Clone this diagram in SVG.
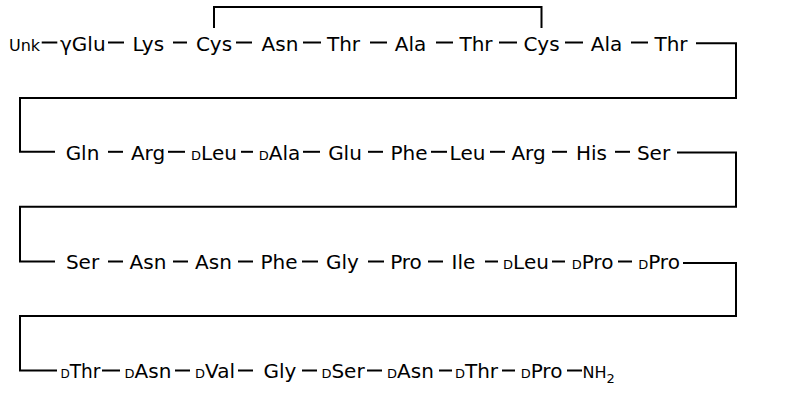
<svg xmlns="http://www.w3.org/2000/svg" width="796" height="417" viewBox="0 0 796 417">
<style>
text{font-family:"DejaVu Sans","Liberation Sans",sans-serif;font-size:20px;fill:#000;text-anchor:middle}
.s{font-size:13px}
.u{font-size:16px}
.c line,.c path{stroke:#000;stroke-width:2;fill:none}
</style>
<rect width="796" height="417" fill="#fff"/>
<g class="c" id="connectors">
<path d="M214,28 V7 H541.5 V28"/>
<path d="M696,43.3 H736 V98 H20 V151.8 H55"/>
<path d="M677,152.5 H736 V206.7 H20 V261.5 H55"/>
<path d="M683,263 H736 V316 H20 V370.5 H57"/>
<line x1="41.7" y1="42.5" x2="57.3" y2="42.5"/>
<line x1="108" y1="42.5" x2="124" y2="42.5"/>
<line x1="173" y1="42.5" x2="187" y2="42.5"/>
<line x1="236" y1="42.5" x2="252" y2="42.5"/>
<line x1="303" y1="42.5" x2="321" y2="42.5"/>
<line x1="370" y1="42.5" x2="387" y2="42.5"/>
<line x1="436" y1="42.5" x2="453" y2="42.5"/>
<line x1="499" y1="42.5" x2="517" y2="42.5"/>
<line x1="565" y1="42.5" x2="583" y2="42.5"/>
<line x1="631" y1="42.5" x2="648" y2="42.5"/>
<line x1="108" y1="151.8" x2="123" y2="151.8"/>
<line x1="168" y1="151.8" x2="185" y2="151.8"/>
<line x1="241" y1="151.8" x2="253" y2="151.8"/>
<line x1="303" y1="151.8" x2="320" y2="151.8"/>
<line x1="368" y1="151.8" x2="383" y2="151.8"/>
<line x1="431" y1="151.8" x2="447" y2="151.8"/>
<line x1="490" y1="151.8" x2="505" y2="151.8"/>
<line x1="552" y1="151.8" x2="567" y2="151.8"/>
<line x1="615" y1="151.8" x2="630" y2="151.8"/>
<line x1="108" y1="261.5" x2="123" y2="261.5"/>
<line x1="173" y1="261.5" x2="188" y2="261.5"/>
<line x1="238" y1="261.5" x2="253" y2="261.5"/>
<line x1="302" y1="261.5" x2="318" y2="261.5"/>
<line x1="368" y1="261.5" x2="384" y2="261.5"/>
<line x1="428" y1="261.5" x2="443" y2="261.5"/>
<line x1="485" y1="261.5" x2="498" y2="261.5"/>
<line x1="552" y1="261.5" x2="565" y2="261.5"/>
<line x1="618" y1="261.5" x2="632" y2="261.5"/>
<line x1="102" y1="370.5" x2="120" y2="370.5"/>
<line x1="175" y1="370.5" x2="190" y2="370.5"/>
<line x1="238" y1="370.5" x2="253" y2="370.5"/>
<line x1="302" y1="370.5" x2="317" y2="370.5"/>
<line x1="367" y1="370.5" x2="382" y2="370.5"/>
<line x1="439" y1="370.5" x2="452" y2="370.5"/>
<line x1="502" y1="370.5" x2="515" y2="370.5"/>
<line x1="567" y1="370.5" x2="582" y2="370.5"/>
</g>
<g id="r1-unk"><text class="u" x="24.5" y="51">Unk</text></g>
<g id="r1-gglu"><text x="82.8" y="51">γGlu</text></g>
<g id="r1-lys"><text x="148.3" y="51">Lys</text></g>
<g id="r1-cys1"><text x="214" y="51">Cys</text></g>
<g id="r1-asn"><text x="280" y="51">Asn</text></g>
<g id="r1-thr1"><text x="343.5" y="51">Thr</text></g>
<g id="r1-ala1"><text x="410.5" y="51">Ala</text></g>
<g id="r1-thr2"><text x="476" y="51">Thr</text></g>
<g id="r1-cys2"><text x="541.5" y="51">Cys</text></g>
<g id="r1-ala2"><text x="606.5" y="51">Ala</text></g>
<g id="r1-thr3"><text x="671" y="51">Thr</text></g>
<g id="r2-gln"><text x="82.5" y="160">Gln</text></g>
<g id="r2-arg1"><text x="148" y="160">Arg</text></g>
<g id="r2-dleu"><text x="214" y="160"><tspan class="s">D</tspan>Leu</text></g>
<g id="r2-dala"><text x="279.5" y="160"><tspan class="s">D</tspan>Ala</text></g>
<g id="r2-glu"><text x="345" y="160">Glu</text></g>
<g id="r2-phe"><text x="409" y="160">Phe</text></g>
<g id="r2-leu"><text x="467.5" y="160">Leu</text></g>
<g id="r2-arg2"><text x="528.5" y="160">Arg</text></g>
<g id="r2-his"><text x="591.5" y="160">His</text></g>
<g id="r2-ser"><text x="653.5" y="160">Ser</text></g>
<g id="r3-ser"><text x="82.5" y="269">Ser</text></g>
<g id="r3-asn1"><text x="148" y="269">Asn</text></g>
<g id="r3-asn2"><text x="213.5" y="269">Asn</text></g>
<g id="r3-phe"><text x="279" y="269">Phe</text></g>
<g id="r3-gly"><text x="342.5" y="269">Gly</text></g>
<g id="r3-pro"><text x="406" y="269">Pro</text></g>
<g id="r3-ile"><text x="463.5" y="269">Ile</text></g>
<g id="r3-dleu"><text x="526" y="269"><tspan class="s">D</tspan>Leu</text></g>
<g id="r3-dpro1"><text x="592.5" y="269"><tspan class="s">D</tspan>Pro</text></g>
<g id="r3-dpro2"><text x="659" y="269"><tspan class="s">D</tspan>Pro</text></g>
<g id="r4-dthr1"><text x="80.5" y="378" textLength="40" lengthAdjust="spacingAndGlyphs"><tspan class="s">D</tspan>Thr</text></g>
<g id="r4-dasn1"><text x="148" y="378"><tspan class="s">D</tspan>Asn</text></g>
<g id="r4-dval"><text x="215" y="378"><tspan class="s">D</tspan>Val</text></g>
<g id="r4-gly"><text x="280" y="378">Gly</text></g>
<g id="r4-dser"><text x="343" y="378"><tspan class="s">D</tspan>Ser</text></g>
<g id="r4-dasn2"><text x="410.5" y="378"><tspan class="s">D</tspan>Asn</text></g>
<g id="r4-dthr2"><text x="476.5" y="378"><tspan class="s">D</tspan>Thr</text></g>
<g id="r4-dpro"><text x="541.5" y="378"><tspan class="s">D</tspan>Pro</text></g>
<g id="r4-nh2"><text class="u" x="582.5" y="378" style="text-anchor:start">NH<tspan class="s" dy="5">2</tspan></text></g>
</svg>
